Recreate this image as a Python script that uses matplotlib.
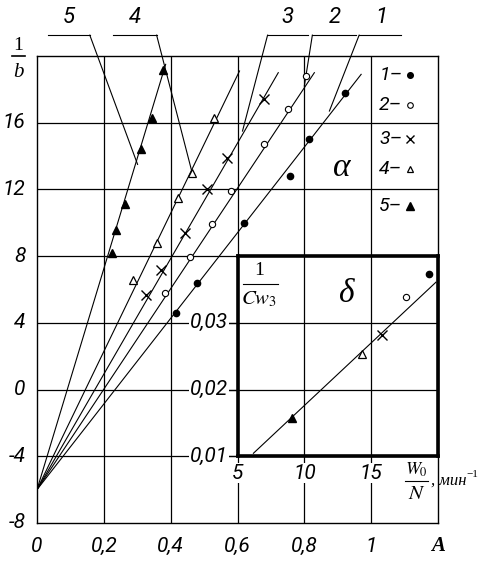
import matplotlib

matplotlib.use("Agg")
import matplotlib.pyplot as plt  # noqa: E402

SANS = ["Roboto", "DejaVu Sans"]
SERIF = ["Liberation Serif", "DejaVu Serif"]

# main panel (a): 1/b versus A, five series
s1_x = [0.415, 0.478, 0.618, 0.758, 0.815, 0.922]
s1_y = [4.6, 6.4, 9.97, 12.8, 15.0, 17.8]
s2_x = [0.382, 0.457, 0.525, 0.582, 0.678, 0.752, 0.806]
s2_y = [5.79, 7.94, 9.9, 11.9, 14.7, 16.8, 18.8]
s3_x = [0.325, 0.370, 0.442, 0.510, 0.570, 0.678]
s3_y = [5.67, 7.16, 9.37, 12.0, 13.9, 17.4]
s4_x = [0.287, 0.358, 0.421, 0.463, 0.531]
s4_y = [6.57, 8.78, 11.46, 12.96, 16.3]
s5_x = [0.224, 0.236, 0.263, 0.310, 0.343, 0.376]
s5_y = [8.18, 9.55, 11.1, 14.45, 16.3, 19.16]

# fitted lines all start at the common intercept
line_start = (0.0, -6.0)
line_end_x = [0.970, 0.830, 0.722, 0.606, 0.385]
line_end_y = [18.9, 19.0, 19.0, 19.1, 19.5]

# inset panel (b): 1/Cw3 versus W0/N
inset_x = [19.33, 17.6, 15.8, 14.3, 9.1]
inset_y = [0.0373, 0.0339, 0.0282, 0.0254, 0.0158]
inset_line_x = [6.19, 19.85]
inset_line_y = [0.01045, 0.0361]

series_labels = ["1", "2", "3", "4", "5"]
x_ticks = [0, 0.2, 0.4, 0.6, 0.8, 1.0]
x_tick_labels = ["0", "0,2", "0,4", "0,6", "0,8", "1"]
y_ticks = [-8, -4, 0, 4, 8, 12, 16]
inset_x_ticks = [5, 10, 15]
inset_y_ticks = [0.01, 0.02, 0.03]
inset_y_tick_labels = ["0,01", "0,02", "0,03"]

# leader lines: label x, horizontal start/end, diagonal start, diagonal end point
leaders = [
    (0.095, 0.033, 0.158, 0.158, (0.301, 13.5)),
    (0.293, 0.227, 0.358, 0.358, (0.463, 13.1)),
    (0.750, 0.690, 0.812, 0.690, (0.615, 15.5)),
    (0.890, 0.824, 0.955, 0.824, (0.800, 18.2)),
    (1.030, 0.964, 1.090, 0.964, (0.875, 16.7)),
]
leader_labels = ["5", "4", "3", "2", "1"]

styles = [
    dict(marker="o", ms=4.5, mfc="black", mec="black"),
    dict(marker="o", ms=4.5, mfc="white", mec="black", mew=0.8),
    dict(marker="x", ms=7, mec="black", mew=1.0),
    dict(marker="^", ms=5.5, mfc="white", mec="black", mew=0.9),
    dict(marker="^", ms=6, mfc="black", mec="black"),
]

fig = plt.figure(figsize=(4.93, 5.66), dpi=100)
ax = fig.add_axes([37 / 493, 43 / 566, 401 / 493, 467 / 566])
ax.set_xlim(0, 1.2)
ax.set_ylim(-8, 20)
for sp in ax.spines.values():
    sp.set_linewidth(1.0)

for gx in [0.2, 0.4, 0.6, 0.8, 1.0]:
    ax.axvline(gx, color="black", lw=0.9, zorder=1)
for gy in [-4, 0, 4, 8, 12, 16]:
    ax.axhline(gy, color="black", lw=0.9, zorder=1)

ax.set_xticks([])
ax.set_yticks([])
tick_font = dict(family=SANS, style="italic", fontsize=15)
for xv, lbl in zip(x_ticks, x_tick_labels):
    ax.text(xv, -9.4, lbl, ha="center", va="center", clip_on=False, **tick_font)
ax.text(1.2, -9.4, "A", ha="center", va="center", family=SERIF, style="italic",
        fontweight="bold", fontsize=15, clip_on=False)
for yv in y_ticks:
    ax.text(-0.035, yv, f"{yv}", ha="right", va="center",
            clip_on=False, **tick_font)
ax.text(-0.055, 20.6, "1", ha="center", va="center", family=SERIF, fontsize=14,
        clip_on=False)
ax.plot([-0.075, -0.035], [20, 20], color="black", lw=1.2, clip_on=False)
ax.text(-0.055, 19.0, "b", ha="center", va="center", family=SERIF, style="italic",
        fontsize=15, clip_on=False)

xs_all = [s1_x, s2_x, s3_x, s4_x, s5_x]
ys_all = [s1_y, s2_y, s3_y, s4_y, s5_y]
for xs, ys, ex, ey, st in zip(xs_all, ys_all, line_end_x, line_end_y, styles):
    ax.plot([line_start[0], ex], [line_start[1], ey], color="black", lw=0.8, zorder=2)
    ax.plot(xs, ys, ls="none", zorder=3, **st)

for (lx, h0, h1, hs, end), lbl in zip(leaders, leader_labels):
    ax.plot([h0, h1], [21.25, 21.25], color="black", lw=0.8, clip_on=False)
    ax.plot([hs, end[0]], [21.25, end[1]], color="black", lw=0.8, clip_on=False)
    ax.text(lx, 22.3, lbl, ha="center", va="center", clip_on=False,
            family=SANS, style="italic", fontsize=16)

# legend column
legend_y = [18.87, 17.07, 15.0, 13.2, 11.0]
for yv, lbl, st in zip(legend_y, series_labels, styles):
    ax.text(1.024, yv, lbl + "\u2013", ha="left", va="center", family=SANS,
            style="italic", fontsize=14)
    st_small = dict(st)
    st_small["ms"] = st["ms"] * 0.9
    ax.plot([1.116], [yv], ls="none", **st_small)
ax.text(0.913, 13.3, "\u03b1", ha="center", va="center", family=SERIF,
        style="italic", fontsize=24)

# inset
ins = ax.inset_axes([0.6, -4, 0.6, 12], transform=ax.transData)
ins.set_xlim(5, 20)
ins.set_ylim(0.01, 0.04)
ins.set_facecolor("white")
for sp in ins.spines.values():
    sp.set_linewidth(2.6)
ins.set_xticks([])
ins.set_yticks([])
for gx in [10, 15]:
    ins.axvline(gx, color="black", lw=0.9)
for gy in [0.02, 0.03]:
    ins.axhline(gy, color="black", lw=0.9)
ins.plot(inset_line_x, inset_line_y, color="black", lw=0.8)
for xv, yv, st in zip(inset_x, inset_y, styles):
    ins.plot([xv], [yv], ls="none", **st)

box = dict(facecolor="white", edgecolor="none", pad=0.5)
for xv in inset_x_ticks:
    ins.text(xv, 0.00745, f"{xv}", ha="center", va="center", bbox=box,
             clip_on=False, **tick_font)
for yv, lbl in zip(inset_y_ticks, inset_y_tick_labels):
    ins.plot([4.3, 5], [yv, yv], color="black", lw=0.9, clip_on=False)
    ins.text(4.3, yv, lbl, ha="right", va="center", bbox=box, clip_on=False,
             **tick_font)

ins.text(6.6, 0.0378, "1", ha="center", va="center", family=SERIF, fontsize=14)
ins.plot([5.4, 8.0], [0.0358, 0.0358], color="black", lw=0.8)
ins.text(6.6, 0.0336, "$\\mathit{Cw}_{3}$", ha="center", va="center",
         fontsize=15, math_fontfamily="stix")
ins.text(13.1, 0.0343, "\u03b4", ha="center", va="center", family=SERIF,
         style="italic", fontsize=24)

ins.text(18.4, 0.0080, "$W_{0}$", ha="center", va="center", fontsize=13,
         math_fontfamily="stix", clip_on=False)
ins.plot([17.5, 19.25], [0.00627, 0.00627], color="black", lw=0.8, clip_on=False)
ins.text(18.4, 0.00455, "$N$", ha="center", va="center", fontsize=15,
         math_fontfamily="stix", clip_on=False)
ins.text(19.5, 0.0064, ", мин", ha="left", va="center", fontsize=12,
         family=SERIF, style="italic", clip_on=False)
ins.text(22.1, 0.0073, "\u22121", ha="left", va="center", fontsize=8,
         family=SERIF, clip_on=False)

fig.savefig("out.png", dpi=100, facecolor="white")
